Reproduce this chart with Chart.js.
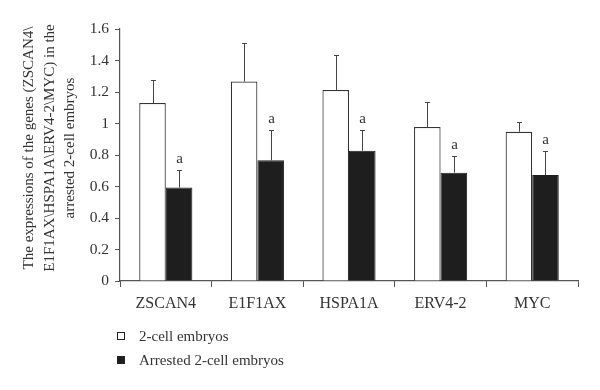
<!DOCTYPE html>
<html>
<head>
<meta charset="utf-8">
<script src="https://cdn.jsdelivr.net/npm/chart.js@4.4.1/dist/chart.umd.min.js"></script>
<style>
  html, body { margin: 0; padding: 0; background: #fff; }
  #wrap { position: relative; width: 600px; height: 390px; }
  canvas { position: absolute; left: 0; top: 0; }
  .leg { position: absolute; left: 117px; font-family: "Liberation Serif", serif; font-size: 15px; color: #333; white-space: nowrap; }
  .leg span.box { display: inline-block; width: 6px; height: 6px; border: 1px solid #222; margin-right: 14px; vertical-align: 1px; }
</style>
</head>
<body>
<div id="wrap">
  <canvas id="c" width="600" height="390"></canvas>
  <div id="legend"></div>
</div>
<script>
const categories = ["ZSCAN4", "E1F1AX", "HSPA1A", "ERV4-2", "MYC"];
const seriesNames = ["2-cell embryos", "Arrested 2-cell embryos"];
const twoCell = [1.13, 1.266, 1.213, 0.978, 0.948];
const twoCellErr = [0.145, 0.247, 0.22, 0.16, 0.061];
const arrested = [0.593, 0.766, 0.827, 0.688, 0.673];
const arrestedErr = [0.114, 0.195, 0.132, 0.104, 0.154];
const arrestedMarks = ["a", "a", "a", "a", "a"];
const yTicks = [0, 0.2, 0.4, 0.6, 0.8, 1, 1.2, 1.4, 1.6];
const yTitle = ["The expressions of the genes (ZSCAN4\\", "E1F1AX\\HSPA1A\\ERV4-2\\MYC) in the", "arrested 2-cell embryos"];

const errors = [twoCellErr, arrestedErr];
const marks = [null, arrestedMarks];

const errorBarPlugin = {
  id: 'errorBars',
  afterDatasetsDraw(chart) {
    const ctx = chart.ctx;
    const y = chart.scales.y;
    ctx.save();
    chart.data.datasets.forEach((ds, di) => {
      const meta = chart.getDatasetMeta(di);
      meta.data.forEach((bar, i) => {
        const v = ds.data[i];
        const e = errors[di][i];
        const x = Math.round(bar.x) + 0.5;
        const y0 = y.getPixelForValue(v);
        const y1 = Math.round(y.getPixelForValue(v + e)) + 0.5;
        ctx.strokeStyle = '#444';
        ctx.lineWidth = 1;
        ctx.beginPath();
        ctx.moveTo(x, y0);
        ctx.lineTo(x, y1);
        ctx.moveTo(x - 2.5, y1);
        ctx.lineTo(x + 2.5, y1);
        ctx.stroke();
        if (marks[di]) {
          ctx.fillStyle = '#333';
          ctx.font = '15px "Liberation Serif", serif';
          ctx.textAlign = 'center';
          ctx.textBaseline = 'bottom';
          ctx.fillText(marks[di][i], x, y1 - 4);
        }
      });
    });
    ctx.restore();
  }
};

const yTitlePlugin = {
  id: 'yTitle',
  afterDraw(chart) {
    const ctx = chart.ctx;
    const xs = [29, 50, 70];
    const cy = 148;
    ctx.save();
    ctx.fillStyle = '#333';
    ctx.font = '15px "Liberation Serif", serif';
    ctx.textAlign = 'center';
    ctx.textBaseline = 'middle';
    yTitle.forEach((t, i) => {
      ctx.save();
      ctx.translate(xs[i], cy);
      ctx.rotate(-Math.PI / 2);
      ctx.fillText(t, 0, 0);
      ctx.restore();
    });
    ctx.restore();
  }
};

new Chart(document.getElementById('c'), {
  type: 'bar',
  data: {
    labels: categories,
    datasets: [
      { label: seriesNames[0], data: twoCell, backgroundColor: '#ffffff', borderColor: '#333', borderWidth: 1.2 },
      { label: seriesNames[1], data: arrested, backgroundColor: '#1e1e1e', borderColor: '#1e1e1e', borderWidth: 1 }
    ]
  },
  options: {
    responsive: false,
    animation: false,
    devicePixelRatio: 1,
    layout: { padding: { top: 29, right: 22, left: 0, bottom: 0 } },
    plugins: { legend: { display: false }, tooltip: { enabled: false } },
    datasets: { bar: { categoryPercentage: 0.58, barPercentage: 1.0 } },
    scales: {
      x: {
        grid: { display: true, drawOnChartArea: false, offset: true, tickLength: 6, color: '#555' },
        border: { color: '#555', width: 1.2 },
        ticks: { color: '#333', font: { family: '"Liberation Serif", serif', size: 16 }, padding: 7 },
        afterFit(s) { s.height = 109; }
      },
      y: {
        min: 0, max: 1.6,
        afterBuildTicks(s) { s.ticks = yTicks.map(v => ({ value: v })); },
        grid: { display: true, drawOnChartArea: false, tickLength: 5, color: '#555' },
        border: { color: '#555', width: 1.2 },
        ticks: { color: '#333', font: { family: '"Liberation Serif", serif', size: 15.5 }, padding: 6,
                 callback: v => String(v) },
        title: { display: false },
        afterFit(s) { s.width = 120; }
      }
    }
  },
  plugins: [errorBarPlugin, yTitlePlugin]
});

const legendColors = ['#ffffff', '#1e1e1e'];
const legendTops = [328, 352];
const legendEl = document.getElementById('legend');
seriesNames.forEach((n, i) => {
  const d = document.createElement('div');
  d.className = 'leg';
  d.style.top = legendTops[i] + 'px';
  const b = document.createElement('span');
  b.className = 'box';
  b.style.background = legendColors[i];
  d.appendChild(b);
  d.appendChild(document.createTextNode(n));
  legendEl.appendChild(d);
});
</script>
</body>
</html>
